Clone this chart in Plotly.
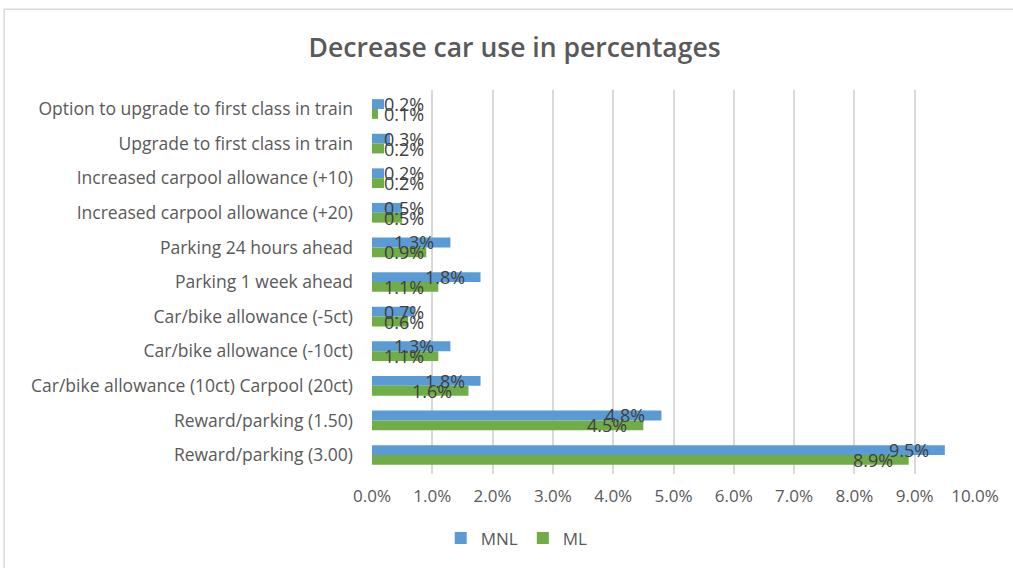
import plotly.graph_objects as go

categories = [
    "Option to upgrade to first class in train",
    "Upgrade to first class in train",
    "Increased carpool allowance (+10)",
    "Increased carpool allowance (+20)",
    "Parking 24 hours ahead",
    "Parking 1 week ahead",
    "Car/bike allowance (-5ct)",
    "Car/bike allowance (-10ct)",
    "Car/bike allowance (10ct) Carpool (20ct)",
    "Reward/parking (1.50)",
    "Reward/parking (3.00)",
]
mnl = [0.2, 0.3, 0.2, 0.5, 1.3, 1.8, 0.7, 1.3, 1.8, 4.8, 9.5]
ml = [0.1, 0.2, 0.2, 0.5, 0.9, 1.1, 0.6, 1.1, 1.6, 4.5, 8.9]
x_ticks = [0, 1, 2, 3, 4, 5, 6, 7, 8, 9, 10]

BLUE = "#5B9BD5"
GREEN = "#70AD47"
TXT = "#595959"
FONT = "Open Sans"

fig = go.Figure()
fig.add_trace(go.Bar(y=categories, x=mnl, orientation="h", name="MNL",
                     marker=dict(color=BLUE, line=dict(width=0))))
fig.add_trace(go.Bar(y=categories, x=ml, orientation="h", name="ML",
                     marker=dict(color=GREEN, line=dict(width=0))))

# data labels (Excel "inside end", kept clear of the axis for short bars)
LABEL_MIN = 1.12
annotations = []
for series, shift in ((mnl, 5), (ml, -5)):
    for cat, v in zip(categories, series):
        annotations.append(dict(
            x=max(v, LABEL_MIN), y=cat, xref="x", yref="y",
            text=f"{v:.1f}%", showarrow=False, xanchor="right", yanchor="middle",
            xshift=-14, yshift=shift,
            font=dict(family=FONT, size=18, color="#404040")))

fig.update_layout(
    width=1013, height=568,
    margin=dict(l=372, r=38, t=90, b=90),
    paper_bgcolor="white", plot_bgcolor="white",
    barmode="group", bargap=0.43, bargroupgap=0,
    title=dict(text="Decrease car use in percentages", x=0.508, xanchor="center",
               y=1 - 48 / 568, yanchor="middle",
               font=dict(family=FONT, size=26.5, color=TXT, weight=600)),
    font=dict(family=FONT, size=17, color=TXT),
    xaxis=dict(range=[0, 10.0], tickvals=x_ticks,
               ticktext=[f"{t:.1f}%" for t in x_ticks],
               showgrid=True, gridcolor="#D9D9D9", gridwidth=1.5,
               zeroline=False, showline=False, ticks="", ticklabelstandoff=10,
               tickfont=dict(family=FONT, size=17, color=TXT)),
    yaxis=dict(autorange="reversed", showgrid=False, zeroline=False,
               showline=False, ticks="", ticklabelstandoff=18,
               tickfont=dict(family=FONT, size=17.5, color=TXT)),
    legend=dict(orientation="h", x=0.24, xanchor="center", y=-0.168,
                yanchor="middle", font=dict(family=FONT, size=17, color=TXT),
                itemwidth=30),
    annotations=annotations,
    shapes=[dict(type="rect", xref="paper", yref="paper",
                 x0=-0.61, x1=1.2, y0=-0.4, y1=1.21,
                 line=dict(color="#D9D9D9", width=1.5), layer="below")],
)

fig.write_html("out.html")
